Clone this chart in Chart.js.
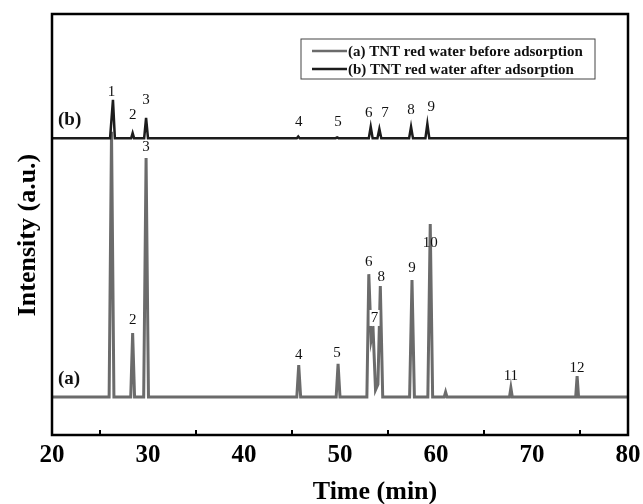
<!DOCTYPE html>
<html>
<head>
<meta charset="utf-8">
<script src="https://cdn.jsdelivr.net/npm/chart.js@4"></script>
<style>
  html, body { margin: 0; padding: 0; background: #fff; }
  #wrap { width: 643px; height: 504px; position: relative; }
</style>
</head>
<body>
<div id="wrap"><canvas id="chroma"></canvas></div>
<script>
// Trace (a) - before adsorption (time in min, intensity a.u.)
const timeA = [20, 25.95, 26.2, 26.45, 28.2, 28.4, 28.6, 29.55, 29.8, 30.05,
  45.5, 45.7, 45.9, 49.6, 49.8, 50.0, 52.8, 53.0, 53.25, 53.45, 53.7, 53.95, 54.2, 54.45,
  57.25, 57.5, 57.75, 59.15, 59.4, 59.65, 60.85, 61.0, 61.15, 67.65, 67.8, 67.95, 74.55, 74.7, 74.85, 80];
const intensityA = [9, 9, 72, 9, 9, 24.2, 9, 9, 65.8, 9,
  9, 16.6, 9, 9, 16.9, 9, 9, 38.2, 22.6, 24.9, 10.7, 12, 35.4, 9,
  9, 36.8, 9, 9, 50.1, 9, 9, 10.2, 9, 9, 11.2, 9, 9, 14.0, 9, 9];

// Trace (b) - after adsorption
const timeB = [20, 26.05, 26.35, 26.55, 28.25, 28.4, 28.55, 29.6, 29.8, 30.0,
  45.5, 45.65, 45.8, 49.55, 49.7, 49.85, 53.0, 53.2, 53.4, 53.9, 54.1, 54.3,
  57.2, 57.4, 57.6, 58.9, 59.1, 59.3, 80];
const intensityB = [70.5, 70.5, 79.6, 70.5, 70.5, 71.7, 70.5, 70.5, 75.3, 70.5,
  70.5, 70.9, 70.5, 70.5, 70.7, 70.5, 70.5, 73.2, 70.5, 70.5, 72.7, 70.5,
  70.5, 73.2, 70.5, 70.5, 73.9, 70.5, 70.5];

// Peak numbers (text, time, intensity of label)
const peakTextA = ['2', '3', '4', '5', '6', '7', '8', '9', '10', '11', '12'];
const peakTimeA = [28.4, 29.8, 45.7, 49.7, 53.0, 53.6, 54.3, 57.5, 59.4, 67.8, 74.7];
const peakValA = [27.3, 68.4, 19.0, 19.5, 41.1, 27.8, 37.5, 39.7, 45.6, 14.0, 15.9];
const peakTextB = ['1', '2', '3', '4', '5', '6', '7', '8', '9'];
const peakTimeB = [26.2, 28.4, 29.8, 45.7, 49.8, 53.0, 54.7, 57.4, 59.5];
const peakValB = [81.5, 76.0, 79.6, 74.3, 74.3, 76.5, 76.5, 77.2, 77.9];

const traceNames = ['(a) TNT red water before adsorption', '(b) TNT red water after adsorption'];
const traceTags = ['(a)', '(b)'];
const traceTagVal = [13.3, 74.8];
const xTicks = [20, 30, 40, 50, 60, 70, 80];
const minorTicks = [25, 35, 45, 55, 65, 75];
const xTitle = 'Time (min)';
const yTitle = 'Intensity (a.u.)';

const colA = '#6b6b6b';
const colB = '#1c1c1c';
const serif = '"Liberation Serif", "DejaVu Serif", serif';

const toPts = (xs, ys) => xs.map((x, i) => ({ x: x, y: ys[i] }));

const decor = {
  id: 'decor',
  afterDatasetsDraw(chart) {
    const ctx = chart.ctx;
    const xs = chart.scales.x, ys = chart.scales.y;
    const a = chart.chartArea;
    ctx.save();
    // peak numbers
    ctx.font = '15px ' + serif;
    ctx.textAlign = 'center';
    ctx.textBaseline = 'middle';
    ctx.fillStyle = '#111';
    peakTextA.forEach((t, i) => {
      const px = xs.getPixelForValue(peakTimeA[i]);
      const py = ys.getPixelForValue(peakValA[i]);
      if (t === '7') {
        ctx.fillStyle = '#fff';
        ctx.fillRect(px - 5, py - 8, 10, 16);
        ctx.fillStyle = '#111';
      }
      ctx.fillText(t, px, py);
    });
    peakTextB.forEach((t, i) => {
      ctx.fillText(t, xs.getPixelForValue(peakTimeB[i]), ys.getPixelForValue(peakValB[i]));
    });
    // trace tags
    ctx.font = 'bold 19px ' + serif;
    ctx.textAlign = 'left';
    traceTags.forEach((t, i) => {
      ctx.fillText(t, a.left + 6, ys.getPixelForValue(traceTagVal[i]));
    });
    // inward minor ticks
    ctx.strokeStyle = '#000';
    ctx.lineWidth = 2;
    minorTicks.forEach(v => {
      const px = xs.getPixelForValue(v);
      ctx.beginPath();
      ctx.moveTo(px, a.bottom);
      ctx.lineTo(px, a.bottom - 5);
      ctx.stroke();
    });
    // frame
    ctx.lineWidth = 2.5;
    ctx.strokeRect(a.left, a.top, a.right - a.left, a.bottom - a.top);
    // axis titles
    ctx.fillStyle = '#000';
    ctx.font = 'bold 26px ' + serif;
    ctx.textAlign = 'center';
    ctx.fillText(xTitle, 375, 492);
    ctx.translate(28, 235);
    ctx.rotate(-Math.PI / 2);
    ctx.fillText(yTitle, 0, 0);
    ctx.setTransform(1, 0, 0, 1, 0, 0);
    // legend box
    const lx = 301, ly = 39, lw = 294, lh = 40;
    ctx.lineWidth = 1;
    ctx.strokeStyle = '#444';
    ctx.strokeRect(lx, ly, lw, lh);
    ctx.font = 'bold 15px ' + serif;
    ctx.textAlign = 'left';
    ctx.textBaseline = 'middle';
    [colA, colB].forEach((c, i) => {
      const yy = ly + 12 + i * 18;
      ctx.strokeStyle = c;
      ctx.lineWidth = 2.5;
      ctx.beginPath();
      ctx.moveTo(lx + 11, yy);
      ctx.lineTo(lx + 46, yy);
      ctx.stroke();
      ctx.fillStyle = '#111';
      ctx.fillText(traceNames[i], lx + 47, yy + 1);
    });
    ctx.restore();
  }
};

new Chart(document.getElementById('chroma'), {
  type: 'line',
  data: {
    datasets: [
      { label: traceNames[1], data: toPts(timeB, intensityB), borderColor: colB, borderWidth: 2.5, pointRadius: 0, tension: 0, order: 0 },
      { label: traceNames[0], data: toPts(timeA, intensityA), borderColor: colA, borderWidth: 3, pointRadius: 0, tension: 0, order: 1 }
    ]
  },
  options: {
    responsive: true,
    maintainAspectRatio: false,
    animation: false,
    layout: { padding: { top: 14, right: 15, left: 0, bottom: 0 } },
    plugins: { legend: { display: false }, tooltip: { enabled: false } },
    scales: {
      x: {
        type: 'linear', min: 20, max: 80,
        afterBuildTicks: s => { s.ticks = xTicks.map(v => ({ value: v })); },
        afterFit: s => { s.height = 69; s.paddingRight = 0; s.paddingLeft = 0; },
        grid: { display: false, drawTicks: false },
        border: { display: false },
        ticks: { color: '#000', padding: 6, maxRotation: 0, font: { family: serif, size: 25, weight: 'bold' } }
      },
      y: {
        min: 0, max: 100,
        afterFit: s => { s.width = 52; },
        grid: { display: false, drawTicks: false },
        border: { display: false },
        ticks: { display: false }
      }
    }
  },
  plugins: [decor]
});
</script>
</body>
</html>
